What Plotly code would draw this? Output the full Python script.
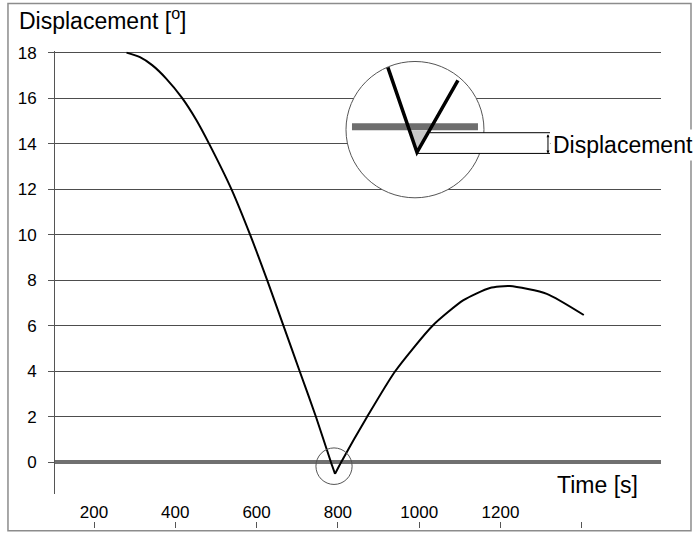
import plotly.graph_objects as go

# ---- data ----
time_s = [280, 313, 343, 377, 417, 451, 483, 538, 584, 626, 666, 706, 746,
          783, 793, 808, 872, 941, 1033, 1109, 1174, 1223, 1314, 1405]
displacement_deg = [18.0, 17.8, 17.45, 16.87, 16.0, 15.06, 14.0, 12.0, 10.0,
                    8.0, 6.0, 4.0, 2.0, 0.0, -0.51, 0.0, 2.0, 4.0, 6.0, 7.12,
                    7.66, 7.74, 7.40, 6.47]
x_label_vals = [200, 400, 600, 800, 1000, 1200]
x_label_text = ["200", "400", "600", "800", "1000", "1200"]
x_tick_vals = [200, 400, 600, 800, 1000, 1200, 1400]
y_tick_vals = [0, 2, 4, 6, 8, 10, 12, 14, 16, 18]

FONT = "Liberation Sans, Arial, sans-serif"
X_RANGE = [104, 1595]
Y_RANGE = [-1.41, 18.07]

# index of the minimum: the curve has a sharp corner there
i_min = displacement_deg.index(min(displacement_deg))

fig = go.Figure()
for xs, ys in [(time_s[:i_min + 1], displacement_deg[:i_min + 1]),
               (time_s[i_min:], displacement_deg[i_min:])]:
    fig.add_trace(go.Scatter(x=xs, y=ys, mode="lines",
                             line=dict(color="black", width=2, shape="spline",
                                       smoothing=0.6),
                             showlegend=False, hoverinfo="skip"))
# helper trace so the lower tick-mark axis is drawn
fig.add_trace(go.Scatter(x=time_s, y=displacement_deg, xaxis="x2", mode="lines",
                         line=dict(color="rgba(0,0,0,0)", width=1),
                         showlegend=False, hoverinfo="skip"))

shapes = [
    # outer frame
    dict(type="rect", xref="paper", yref="paper", x0=-0.0776, x1=1.0495,
         y0=-0.021, y1=1.1008, line=dict(color="#8c8c8c", width=1.5), layer="below"),
    # small circle at the minimum
    dict(type="circle", xref="x", yref="y", x0=746, x1=835, y0=-0.975, y1=0.63,
         line=dict(color="#555555", width=1), layer="above"),
    # inset magnifier circle
    dict(type="circle", xref="x", yref="y", x0=820, x1=1159.4, y0=11.62, y1=17.61,
         fillcolor="white", line=dict(color="#555555", width=1), layer="above"),
    # shaded triangle under the bar
    dict(type="path", xref="x", yref="y",
         path="M 978.4 14.57 L 1027.1 14.57 L 994.6 13.62 Z",
         fillcolor="#c8c8c8", line=dict(width=0), layer="above"),
    # thick gray bar (zero line magnified)
    dict(type="line", xref="x", yref="y", x0=834.7, x1=1144.7, y0=14.74, y1=14.74,
         line=dict(color="#6e6e6e", width=7), layer="above"),
    # V magnified
    dict(type="path", xref="x", yref="y",
         path="M 923 17.35 L 994.6 13.62 L 1095.4 16.78",
         line=dict(color="black", width=3.5), layer="above"),
    # white rectangle masking gridline
    dict(type="rect", xref="x", yref="y", x0=1026.5, x1=1321.8, y0=13.57, y1=14.48,
         fillcolor="white", line=dict(width=0), layer="above"),
    dict(type="line", xref="x", yref="y", x0=1026.5, x1=1321.8, y0=14.48, y1=14.48,
         line=dict(color="black", width=1), layer="above"),
    dict(type="line", xref="x", yref="y", x0=994.6, x1=1321.8, y0=13.57, y1=13.57,
         line=dict(color="black", width=1), layer="above"),
]

annotations = [
    dict(text="Displacement [<sup>o</sup>]", xref="paper", yref="paper",
         x=-0.063, y=1.069, xanchor="left", yanchor="middle", showarrow=False,
         font=dict(family=FONT, size=23, color="black")),
    dict(text="Time [s]", xref="x", yref="y", x=1334, y=-1.02,
         xanchor="left", yanchor="middle", showarrow=False,
         font=dict(family=FONT, size=23, color="black")),
    dict(text="Displacement", xref="x", yref="y", x=1322, y=13.92,
         xanchor="left", yanchor="middle", showarrow=False, bgcolor="white",
         borderpad=2, font=dict(family=FONT, size=23, color="black")),
    dict(text="", xref="x", yref="y", axref="x", ayref="y",
         x=1316.9, y=13.57, ax=1316.9, ay=14.48, showarrow=True,
         arrowhead=2, arrowside="end+start", arrowsize=0.6, arrowwidth=1,
         arrowcolor="black", standoff=0, startstandoff=0),
]

fig.update_layout(
    width=693, height=538,
    margin=dict(l=55, r=32, t=51, b=11),
    paper_bgcolor="white", plot_bgcolor="white",
    font=dict(family=FONT, color="black"),
    showlegend=False,
    xaxis=dict(range=X_RANGE, domain=[0, 1], anchor="y", showgrid=False,
               zeroline=False, showline=False, ticks="", tickmode="array",
               tickvals=x_label_vals, ticktext=x_label_text,
               ticklabelstandoff=6,
               tickfont=dict(family=FONT, size=17, color="black")),
    xaxis2=dict(range=X_RANGE, overlaying="x", anchor="free", position=0,
                side="bottom", showgrid=False, zeroline=False, showline=False,
                ticks="outside", ticklen=6, tickwidth=1, tickcolor="#555555",
                tickmode="array", tickvals=x_tick_vals, showticklabels=False),
    yaxis=dict(range=Y_RANGE, domain=[0.0567, 1], showgrid=True,
               gridcolor="#4d4d4d", gridwidth=1, zeroline=True,
               zerolinecolor="#707070", zerolinewidth=4, showline=True,
               linecolor="#555555", linewidth=1, ticks="outside", ticklen=6,
               tickcolor="#555555", tickmode="array", tickvals=y_tick_vals,
               ticklabelstandoff=8,
               tickfont=dict(family=FONT, size=17, color="black")),
    shapes=shapes,
    annotations=annotations,
)

fig.write_html("out.html",
               config={"displayModeBar": False},
               post_script="document.body.style.margin='0px';")
